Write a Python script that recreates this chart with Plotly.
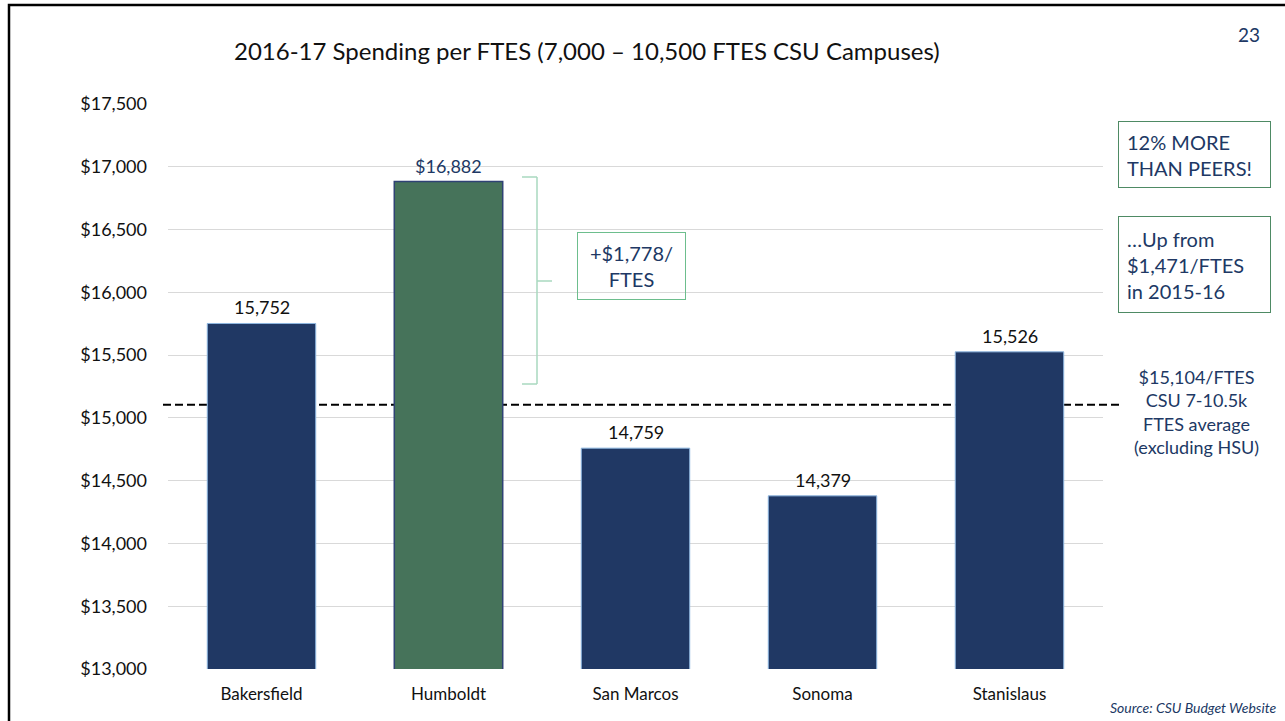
import plotly.graph_objects as go

# ---------------- data ----------------
campuses = ["Bakersfield", "Humboldt", "San Marcos", "Sonoma", "Stanislaus"]
spending = [15752, 16882, 14759, 14379, 15526]
bar_labels = ["15,752", "$16,882", "14,759", "14,379", "15,526"]
peer_average = 15104
y_tick_vals = [13000, 13500, 14000, 14500, 15000, 15500, 16000, 16500, 17000, 17500]
y_tick_text = ["$13,000", "$13,500", "$14,000", "$14,500", "$15,000",
               "$15,500", "$16,000", "$16,500", "$17,000", "$17,500"]

title_text = "2016-17 Spending per FTES (7,000 \u2013 10,500 FTES CSU Campuses)"
page_number = "23"
diff_text = "+$1,778/<br>FTES"
box1_text = "12% MORE<br>THAN PEERS!"
box2_text = "\u2026Up from<br>$1,471/FTES<br>in 2015-16"
avg_text = "$15,104/FTES<br>CSU 7-10.5k<br>FTES average<br>(excluding HSU)"
source_text = "<i>Source: CSU Budget Website</i>"

# ---------------- styling ----------------
W, H = 1285, 721
L, R_, T, B = 168, 1103, 104, 669
NAVY = "#203864"
GREEN = "#46735A"
FONT = "Lato"

def px(x):
    return (x - L) / (R_ - L)

def py(y):
    return (B - y) / (B - T)

bar_colors = [GREEN if c == "Humboldt" else NAVY for c in campuses]
line_colors = ["#2F4274" if c == "Humboldt" else "#8DB6E0" for c in campuses]
line_widths = [1.5 if c == "Humboldt" else 1 for c in campuses]
label_colors = [NAVY if c == "Humboldt" else "#111111" for c in campuses]

fig = go.Figure()
fig.add_trace(go.Bar(
    x=campuses, y=spending,
    marker=dict(color=bar_colors, line=dict(color=line_colors, width=line_widths)),
    showlegend=False, hoverinfo="x+y",
))

annotations = []
for c, v, t, col in zip(campuses, spending, bar_labels, label_colors):
    annotations.append(dict(x=c, y=v, xref="x", yref="y", text=t, showarrow=False,
                            yanchor="bottom", yshift=3,
                            font=dict(family=FONT, size=18, color=col)))

annotations += [
    dict(x=px(587), y=py(50), xref="paper", yref="paper", text=title_text,
         showarrow=False, xanchor="center", yanchor="middle",
         font=dict(family=FONT, size=24, color="#111111")),
    dict(x=px(1249), y=py(34), xref="paper", yref="paper", text=page_number,
         showarrow=False, xanchor="center", yanchor="middle",
         font=dict(family=FONT, size=19, color=NAVY)),
    dict(x=px(577), y=py(232), xref="paper", yref="paper", text=diff_text,
         showarrow=False, xanchor="left", yanchor="top", align="center",
         width=105, height=64, borderpad=1, borderwidth=1, bordercolor="#6DBE8D",
         font=dict(family=FONT, size=20, color=NAVY)),
    dict(x=px(1118), y=py(121), xref="paper", yref="paper", text=box1_text,
         showarrow=False, xanchor="left", yanchor="top", align="left",
         width=135, height=49, borderpad=8, borderwidth=1, bordercolor="#4E8A64",
         font=dict(family=FONT, size=20, color=NAVY)),
    dict(x=px(1118), y=py(216), xref="paper", yref="paper", text=box2_text,
         showarrow=False, xanchor="left", yanchor="top", align="left",
         width=135, height=79, borderpad=8, borderwidth=1, bordercolor="#4E8A64",
         font=dict(family=FONT, size=20, color=NAVY)),
    dict(x=px(1196), y=py(412), xref="paper", yref="paper", text=avg_text,
         showarrow=False, xanchor="center", yanchor="middle", align="center",
         font=dict(family=FONT, size=18, color=NAVY)),
    dict(x=px(1278), y=py(707), xref="paper", yref="paper", text=source_text,
         showarrow=False, xanchor="right", yanchor="middle",
         font=dict(family=FONT, size=14, color=NAVY)),
]

BR = "#A9D8BF"
shapes = [
    # peer average dashed line (behind bars)
    dict(type="line", xref="paper", yref="y", x0=px(163), x1=px(1123),
         y0=peer_average, y1=peer_average, layer="between",
         line=dict(color="black", width=2, dash="8px,4px")),
    # bracket
    dict(type="line", xref="paper", yref="paper", x0=px(537), x1=px(537),
         y0=py(177), y1=py(384), line=dict(color=BR, width=1.5)),
    dict(type="line", xref="paper", yref="paper", x0=px(522), x1=px(537),
         y0=py(177), y1=py(177), line=dict(color=BR, width=1.5)),
    dict(type="line", xref="paper", yref="paper", x0=px(522), x1=px(537),
         y0=py(384), y1=py(384), line=dict(color=BR, width=1.5)),
    dict(type="line", xref="paper", yref="paper", x0=px(537), x1=px(552),
         y0=py(281), y1=py(281), line=dict(color=BR, width=1.5)),
    # slide frame
    dict(type="rect", xref="paper", yref="paper", x0=px(9), x1=px(1300),
         y0=py(5), y1=py(740), line=dict(color="black", width=2.5)),
]

fig.update_layout(
    width=W, height=H,
    margin=dict(l=L, r=W - R_, t=T, b=H - B, pad=0),
    paper_bgcolor="white", plot_bgcolor="white",
    bargap=0.42,
    annotations=annotations, shapes=shapes,
    xaxis=dict(showgrid=False, showline=False, ticks="", zeroline=False,
               tickfont=dict(family=FONT, size=17, color="#111111"),
               ticklabelstandoff=13),
    yaxis=dict(range=[13000, 17500], tickvals=y_tick_vals, ticktext=y_tick_text,
               showgrid=True, gridcolor="#D9D9D9", gridwidth=1.3, zeroline=False,
               showline=False, ticks="",
               tickfont=dict(family=FONT, size=18, color="#111111"),
               ticklabelstandoff=20),
    showlegend=False,
)

fig.write_html("out.html",
               config={"displayModeBar": False},
               post_script="document.body.style.margin='0';document.body.style.overflow='hidden';")
